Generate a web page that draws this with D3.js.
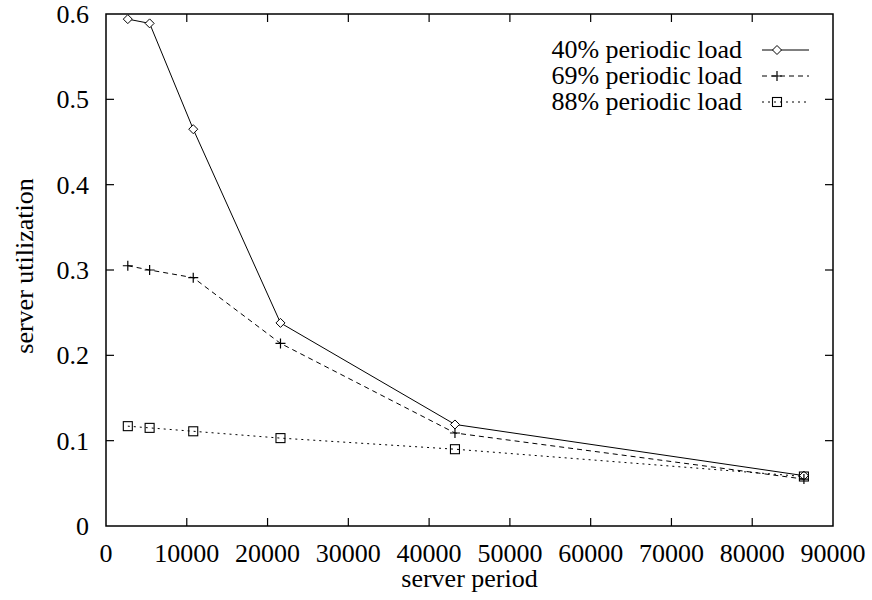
<!DOCTYPE html>
<html>
<head>
<meta charset="utf-8">
<script src="https://cdn.jsdelivr.net/npm/d3@7/dist/d3.min.js"></script>
<style>
  html, body { margin: 0; padding: 0; background: #fff; }
  svg { display: block; }
  text { font-family: "Liberation Serif", "Times New Roman", serif; fill: #000; }
</style>
</head>
<body>
<svg id="chart" width="872" height="600"></svg>
<script>
// server period values (x)
const periods = [2700, 5400, 10800, 21600, 43200, 86400];
// server utilization for each periodic load
const load40 = [0.594, 0.589, 0.465, 0.238, 0.119, 0.059];
const load69 = [0.305, 0.300, 0.291, 0.214, 0.109, 0.055];
const load88 = [0.117, 0.115, 0.111, 0.103, 0.090, 0.058];
const seriesNames = ["40% periodic load", "69% periodic load", "88% periodic load"];
const xTicks = [0, 10000, 20000, 30000, 40000, 50000, 60000, 70000, 80000, 90000];
const yTicks = [0, 0.1, 0.2, 0.3, 0.4, 0.5, 0.6];

const svg = d3.select("#chart");
const plotLeft = 106, plotRight = 833, plotTop = 14, plotBottom = 526;

const x = d3.scaleLinear().domain([0, 90000]).range([plotLeft, plotRight]);
const y = d3.scaleLinear().domain([0, 0.6]).range([plotBottom, plotTop]);

const fontSize = 26;
const tickLen = 8;

// Frame
svg.append("rect")
  .attr("x", plotLeft).attr("y", plotTop)
  .attr("width", plotRight - plotLeft).attr("height", plotBottom - plotTop)
  .attr("fill", "none").attr("stroke", "#000").attr("stroke-width", 1.5);

// Ticks on all four sides, pointing inward
const g = svg.append("g").attr("stroke", "#000").attr("stroke-width", 1.2);
xTicks.slice(1, -1).forEach(t => {
  g.append("line").attr("x1", x(t)).attr("x2", x(t)).attr("y1", plotBottom).attr("y2", plotBottom - tickLen);
  g.append("line").attr("x1", x(t)).attr("x2", x(t)).attr("y1", plotTop).attr("y2", plotTop + tickLen);
});
yTicks.slice(1, -1).forEach(t => {
  g.append("line").attr("x1", plotLeft).attr("x2", plotLeft + tickLen).attr("y1", y(t)).attr("y2", y(t));
  g.append("line").attr("x1", plotRight).attr("x2", plotRight - tickLen).attr("y1", y(t)).attr("y2", y(t));
});

// Tick labels
svg.append("g").selectAll("text").data(xTicks).join("text")
  .attr("x", d => x(d)).attr("y", plotBottom + 36)
  .attr("text-anchor", "middle").attr("font-size", fontSize)
  .text(d => d);
svg.append("g").selectAll("text").data(yTicks).join("text")
  .attr("x", plotLeft - 17).attr("y", d => y(d) + 9)
  .attr("text-anchor", "end").attr("font-size", fontSize)
  .text(d => d === 0 ? "0" : d3.format(".1f")(d));

// Axis titles
svg.append("text")
  .attr("x", (plotLeft + plotRight) / 2).attr("y", plotBottom + 61)
  .attr("text-anchor", "middle").attr("font-size", fontSize)
  .text("server period");
svg.append("text")
  .attr("transform", `translate(33, 266) rotate(-90)`)
  .attr("text-anchor", "middle").attr("font-size", fontSize)
  .text("server utilization");

// Point markers
function drawMarker(sel, kind, cx, cy) {
  if (kind === "diamond") {
    const r = 4.5;
    sel.append("path")
      .attr("d", `M${cx},${cy - r}L${cx + r},${cy}L${cx},${cy + r}L${cx - r},${cy}Z`)
      .attr("fill", "#fff").attr("stroke", "#000").attr("stroke-width", 1);
  } else if (kind === "plus") {
    const r = 5;
    sel.append("path")
      .attr("d", `M${cx - r},${cy}H${cx + r}M${cx},${cy - r}V${cy + r}`)
      .attr("fill", "none").attr("stroke", "#000").attr("stroke-width", 1.2);
  } else {
    const r = 4.5;
    sel.append("rect")
      .attr("x", cx - r).attr("y", cy - r).attr("width", 2 * r).attr("height", 2 * r)
      .attr("fill", "none").attr("stroke", "#000").attr("stroke-width", 1.1);
  }
}

const series = [
  { name: seriesNames[0], values: load40, dash: null, marker: "diamond" },
  { name: seriesNames[1], values: load69, dash: "5,4", marker: "plus" },
  { name: seriesNames[2], values: load88, dash: "2,4", marker: "square" }
];

const line = d3.line().x(d => x(d[0])).y(d => y(d[1]));

series.forEach(s => {
  const pts = periods.map((p, i) => [p, s.values[i]]);
  svg.append("path")
    .attr("d", line(pts))
    .attr("fill", "none").attr("stroke", "#000").attr("stroke-width", 1)
    .attr("stroke-dasharray", s.dash);
  const mg = svg.append("g");
  pts.forEach(p => drawMarker(mg, s.marker, x(p[0]), y(p[1])));
});

// Legend
const legendRows = [50, 76, 102];
series.forEach((s, i) => {
  const ly = legendRows[i];
  svg.append("text")
    .attr("x", 742).attr("y", ly + 8)
    .attr("text-anchor", "end").attr("font-size", fontSize)
    .text(s.name);
  svg.append("line")
    .attr("x1", 762).attr("x2", 809).attr("y1", ly).attr("y2", ly)
    .attr("stroke", "#000").attr("stroke-width", 1)
    .attr("stroke-dasharray", s.dash);
  drawMarker(svg, s.marker, 777, ly);
});
</script>
</body>
</html>
